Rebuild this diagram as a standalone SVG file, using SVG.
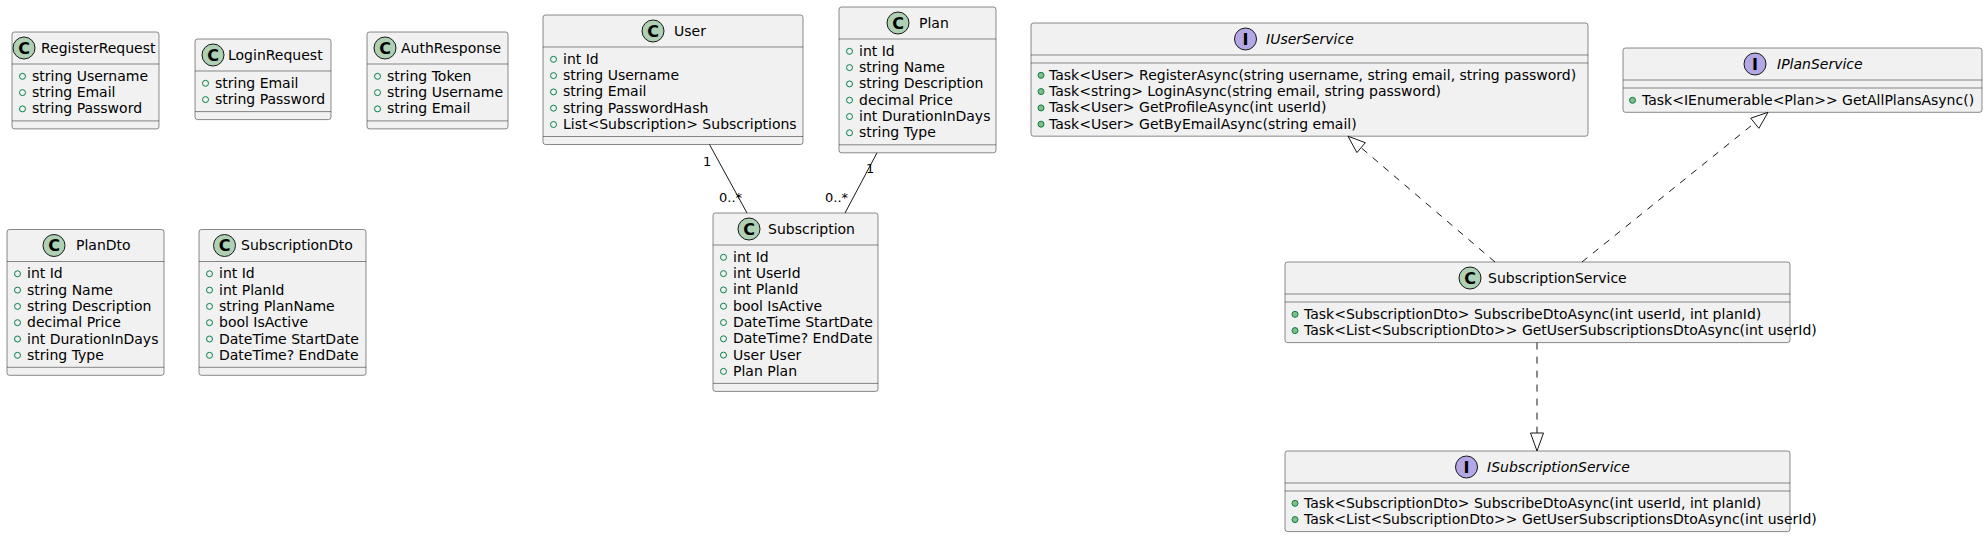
<svg xmlns="http://www.w3.org/2000/svg" width="1988" height="537" viewBox="0 0 1988 537">
<style>
.box{fill:#F1F1F1;stroke:#181818;stroke-width:0.5}
.sep{stroke:#181818;stroke-width:0.5}
.cc{fill:#ADD1B2;stroke:#181818;stroke-width:1}
.ic{fill:#B4A7E5;stroke:#181818;stroke-width:1}
.lt{font-family:"DejaVu Sans",sans-serif;font-size:16px;font-weight:bold;fill:#000;text-anchor:middle}
.t{font-family:"DejaVu Sans",sans-serif;font-size:14px;fill:#000}
.ti{font-family:"DejaVu Sans",sans-serif;font-size:14px;font-style:italic;fill:#000}
.lb{font-family:"DejaVu Sans",sans-serif;font-size:13px;fill:#000}
.f{fill:none;stroke:#038048;stroke-width:1}
.m{fill:#84BE84;stroke:#038048;stroke-width:1}
.ln{fill:none;stroke:#181818;stroke-width:1}
.dl{fill:none;stroke:#181818;stroke-width:1;stroke-dasharray:7,7}
.ah{fill:none;stroke:#181818;stroke-width:1}
</style>
<rect width="1988" height="537" fill="#FFFFFF"/>

<g id="RegisterRequest">
<rect class="box" x="12" y="32" width="147" height="96.9" rx="2.5"/>
<circle class="cc" cx="24" cy="48" r="11"/><text class="lt" x="24" y="53.8">C</text>
<text class="t" x="41" y="52.8">RegisterRequest</text>
<line class="sep" x1="12" y1="64" x2="159" y2="64"/>
<circle class="f" cx="22.5" cy="76.3" r="3"/><text class="t" x="32" y="80.8">string Username</text>
<circle class="f" cx="22.5" cy="92.6" r="3"/><text class="t" x="32" y="97.1">string Email</text>
<circle class="f" cx="22.5" cy="108.9" r="3"/><text class="t" x="32" y="113.4">string Password</text>
<line class="sep" x1="12" y1="120.9" x2="159" y2="120.9"/>
</g>

<g id="LoginRequest">
<rect class="box" x="195" y="39" width="136" height="80.6" rx="2.5"/>
<circle class="cc" cx="213" cy="55" r="11"/><text class="lt" x="213" y="60.8">C</text>
<text class="t" x="228" y="59.8">LoginRequest</text>
<line class="sep" x1="195" y1="71" x2="331" y2="71"/>
<circle class="f" cx="205.5" cy="83.3" r="3"/><text class="t" x="215" y="87.8">string Email</text>
<circle class="f" cx="205.5" cy="99.6" r="3"/><text class="t" x="215" y="104.1">string Password</text>
<line class="sep" x1="195" y1="111.6" x2="331" y2="111.6"/>
</g>

<g id="AuthResponse">
<rect class="box" x="367" y="32" width="141" height="96.9" rx="2.5"/>
<circle class="cc" cx="385" cy="48" r="11"/><text class="lt" x="385" y="53.8">C</text>
<text class="t" x="401" y="52.8">AuthResponse</text>
<line class="sep" x1="367" y1="64" x2="508" y2="64"/>
<circle class="f" cx="377.5" cy="76.3" r="3"/><text class="t" x="387" y="80.8">string Token</text>
<circle class="f" cx="377.5" cy="92.6" r="3"/><text class="t" x="387" y="97.1">string Username</text>
<circle class="f" cx="377.5" cy="108.9" r="3"/><text class="t" x="387" y="113.4">string Email</text>
<line class="sep" x1="367" y1="120.9" x2="508" y2="120.9"/>
</g>

<g id="PlanDto">
<rect class="box" x="7" y="229.5" width="157" height="145.8" rx="2.5"/>
<circle class="cc" cx="54" cy="245.5" r="11"/><text class="lt" x="54" y="251.3">C</text>
<text class="t" x="76" y="250.3">PlanDto</text>
<line class="sep" x1="7" y1="261.5" x2="164" y2="261.5"/>
<circle class="f" cx="17.5" cy="273.8" r="3"/><text class="t" x="27" y="278.3">int Id</text>
<circle class="f" cx="17.5" cy="290.1" r="3"/><text class="t" x="27" y="294.6">string Name</text>
<circle class="f" cx="17.5" cy="306.4" r="3"/><text class="t" x="27" y="310.9">string Description</text>
<circle class="f" cx="17.5" cy="322.7" r="3"/><text class="t" x="27" y="327.2">decimal Price</text>
<circle class="f" cx="17.5" cy="339" r="3"/><text class="t" x="27" y="343.5">int DurationInDays</text>
<circle class="f" cx="17.5" cy="355.3" r="3"/><text class="t" x="27" y="359.8">string Type</text>
<line class="sep" x1="7" y1="367.3" x2="164" y2="367.3"/>
</g>

<g id="SubscriptionDto">
<rect class="box" x="199" y="229.5" width="167" height="145.8" rx="2.5"/>
<circle class="cc" cx="224.5" cy="245.5" r="11"/><text class="lt" x="224.5" y="251.3">C</text>
<text class="t" x="241" y="250.3">SubscriptionDto</text>
<line class="sep" x1="199" y1="261.5" x2="366" y2="261.5"/>
<circle class="f" cx="209.5" cy="273.8" r="3"/><text class="t" x="219" y="278.3">int Id</text>
<circle class="f" cx="209.5" cy="290.1" r="3"/><text class="t" x="219" y="294.6">int PlanId</text>
<circle class="f" cx="209.5" cy="306.4" r="3"/><text class="t" x="219" y="310.9">string PlanName</text>
<circle class="f" cx="209.5" cy="322.7" r="3"/><text class="t" x="219" y="327.2">bool IsActive</text>
<circle class="f" cx="209.5" cy="339" r="3"/><text class="t" x="219" y="343.5">DateTime StartDate</text>
<circle class="f" cx="209.5" cy="355.3" r="3"/><text class="t" x="219" y="359.8">DateTime? EndDate</text>
<line class="sep" x1="199" y1="367.3" x2="366" y2="367.3"/>
</g>

<g id="User">
<rect class="box" x="543" y="15" width="260" height="129.5" rx="2.5"/>
<circle class="cc" cx="653" cy="31" r="11"/><text class="lt" x="653" y="36.8">C</text>
<text class="t" x="674" y="35.8">User</text>
<line class="sep" x1="543" y1="47" x2="803" y2="47"/>
<circle class="f" cx="553.5" cy="59.3" r="3"/><text class="t" x="563" y="63.8">int Id</text>
<circle class="f" cx="553.5" cy="75.6" r="3"/><text class="t" x="563" y="80.1">string Username</text>
<circle class="f" cx="553.5" cy="91.9" r="3"/><text class="t" x="563" y="96.4">string Email</text>
<circle class="f" cx="553.5" cy="108.2" r="3"/><text class="t" x="563" y="112.7">string PasswordHash</text>
<circle class="f" cx="553.5" cy="124.5" r="3"/><text class="t" x="563" y="129">List&lt;Subscription&gt; Subscriptions</text>
<line class="sep" x1="543" y1="136.5" x2="803" y2="136.5"/>
</g>

<g id="Plan">
<rect class="box" x="839" y="7" width="157" height="145.8" rx="2.5"/>
<circle class="cc" cx="898" cy="23" r="11"/><text class="lt" x="898" y="28.8">C</text>
<text class="t" x="919" y="27.8">Plan</text>
<line class="sep" x1="839" y1="39" x2="996" y2="39"/>
<circle class="f" cx="849.5" cy="51.3" r="3"/><text class="t" x="859" y="55.8">int Id</text>
<circle class="f" cx="849.5" cy="67.6" r="3"/><text class="t" x="859" y="72.1">string Name</text>
<circle class="f" cx="849.5" cy="83.9" r="3"/><text class="t" x="859" y="88.4">string Description</text>
<circle class="f" cx="849.5" cy="100.2" r="3"/><text class="t" x="859" y="104.7">decimal Price</text>
<circle class="f" cx="849.5" cy="116.5" r="3"/><text class="t" x="859" y="121">int DurationInDays</text>
<circle class="f" cx="849.5" cy="132.8" r="3"/><text class="t" x="859" y="137.3">string Type</text>
<line class="sep" x1="839" y1="144.8" x2="996" y2="144.8"/>
</g>

<g id="Subscription">
<rect class="box" x="713" y="213" width="165" height="178.4" rx="2.5"/>
<circle class="cc" cx="749" cy="229" r="11"/><text class="lt" x="749" y="234.8">C</text>
<text class="t" x="768" y="233.8">Subscription</text>
<line class="sep" x1="713" y1="245" x2="878" y2="245"/>
<circle class="f" cx="723.5" cy="257.3" r="3"/><text class="t" x="733" y="261.8">int Id</text>
<circle class="f" cx="723.5" cy="273.6" r="3"/><text class="t" x="733" y="278.1">int UserId</text>
<circle class="f" cx="723.5" cy="289.9" r="3"/><text class="t" x="733" y="294.4">int PlanId</text>
<circle class="f" cx="723.5" cy="306.2" r="3"/><text class="t" x="733" y="310.7">bool IsActive</text>
<circle class="f" cx="723.5" cy="322.5" r="3"/><text class="t" x="733" y="327">DateTime StartDate</text>
<circle class="f" cx="723.5" cy="338.8" r="3"/><text class="t" x="733" y="343.3">DateTime? EndDate</text>
<circle class="f" cx="723.5" cy="355.1" r="3"/><text class="t" x="733" y="359.6">User User</text>
<circle class="f" cx="723.5" cy="371.4" r="3"/><text class="t" x="733" y="375.9">Plan Plan</text>
<line class="sep" x1="713" y1="383.4" x2="878" y2="383.4"/>
</g>

<g id="IUserService">
<rect class="box" x="1031" y="23" width="557" height="113.2" rx="2.5"/>
<circle class="ic" cx="1245.5" cy="39" r="11"/><text class="lt" x="1245.5" y="44.8">I</text>
<text class="ti" x="1266" y="43.8">IUserService</text>
<line class="sep" x1="1031" y1="55" x2="1588" y2="55"/>
<line class="sep" x1="1031" y1="63" x2="1588" y2="63"/>
<circle class="m" cx="1041" cy="75.3" r="3"/><text class="t" x="1049" y="79.8">Task&lt;User&gt; RegisterAsync(string username, string email, string password)</text>
<circle class="m" cx="1041" cy="91.6" r="3"/><text class="t" x="1049" y="96.1">Task&lt;string&gt; LoginAsync(string email, string password)</text>
<circle class="m" cx="1041" cy="107.9" r="3"/><text class="t" x="1049" y="112.4">Task&lt;User&gt; GetProfileAsync(int userId)</text>
<circle class="m" cx="1041" cy="124.2" r="3"/><text class="t" x="1049" y="128.7">Task&lt;User&gt; GetByEmailAsync(string email)</text>
</g>

<g id="IPlanService">
<rect class="box" x="1623" y="48" width="359" height="64.3" rx="2.5"/>
<circle class="ic" cx="1755" cy="64" r="11"/><text class="lt" x="1755" y="69.8">I</text>
<text class="ti" x="1777" y="68.8">IPlanService</text>
<line class="sep" x1="1623" y1="80" x2="1982" y2="80"/>
<line class="sep" x1="1623" y1="88" x2="1982" y2="88"/>
<circle class="m" cx="1632.5" cy="100.3" r="3"/><text class="t" x="1642" y="104.8">Task&lt;IEnumerable&lt;Plan&gt;&gt; GetAllPlansAsync()</text>
</g>

<g id="SubscriptionService">
<rect class="box" x="1285" y="262" width="505" height="80.6" rx="2.5"/>
<circle class="cc" cx="1470" cy="278" r="11"/><text class="lt" x="1470" y="283.8">C</text>
<text class="t" x="1488" y="282.8">SubscriptionService</text>
<line class="sep" x1="1285" y1="294" x2="1790" y2="294"/>
<line class="sep" x1="1285" y1="302" x2="1790" y2="302"/>
<circle class="m" cx="1295" cy="314.3" r="3"/><text class="t" x="1304" y="318.8">Task&lt;SubscriptionDto&gt; SubscribeDtoAsync(int userId, int planId)</text>
<circle class="m" cx="1295" cy="330.6" r="3"/><text class="t" x="1304" y="335.1">Task&lt;List&lt;SubscriptionDto&gt;&gt; GetUserSubscriptionsDtoAsync(int userId)</text>
</g>

<g id="ISubscriptionService">
<rect class="box" x="1285" y="451" width="505" height="80.6" rx="2.5"/>
<circle class="ic" cx="1466.5" cy="467" r="11"/><text class="lt" x="1466.5" y="472.8">I</text>
<text class="ti" x="1487" y="471.8">ISubscriptionService</text>
<line class="sep" x1="1285" y1="483" x2="1790" y2="483"/>
<line class="sep" x1="1285" y1="491" x2="1790" y2="491"/>
<circle class="m" cx="1295" cy="503.3" r="3"/><text class="t" x="1304" y="507.8">Task&lt;SubscriptionDto&gt; SubscribeDtoAsync(int userId, int planId)</text>
<circle class="m" cx="1295" cy="519.6" r="3"/><text class="t" x="1304" y="524.1">Task&lt;List&lt;SubscriptionDto&gt;&gt; GetUserSubscriptionsDtoAsync(int userId)</text>
</g>

<g id="connectors">
<line class="ln" x1="709.5" y1="144.5" x2="747" y2="213"/>
<text class="lb" x="703" y="166">1</text>
<text class="lb" x="719" y="202">0..*</text>
<line class="ln" x1="877" y1="152.8" x2="845" y2="213"/>
<text class="lb" x="866" y="173">1</text>
<text class="lb" x="825" y="202">0..*</text>
<line class="dl" x1="1495" y1="262" x2="1361" y2="147.6"/>
<polygon class="ah" points="1348,136.2 1356.9,152.6 1365.3,142.7"/>
<line class="dl" x1="1582" y1="262" x2="1754.7" y2="122.9"/>
<polygon class="ah" points="1768,112.3 1758.9,128.3 1750.7,118.2"/>
<line class="dl" x1="1537" y1="342.6" x2="1537" y2="433"/>
<polygon class="ah" points="1537,451 1530.5,433 1543.5,433"/>
</g>
</svg>
